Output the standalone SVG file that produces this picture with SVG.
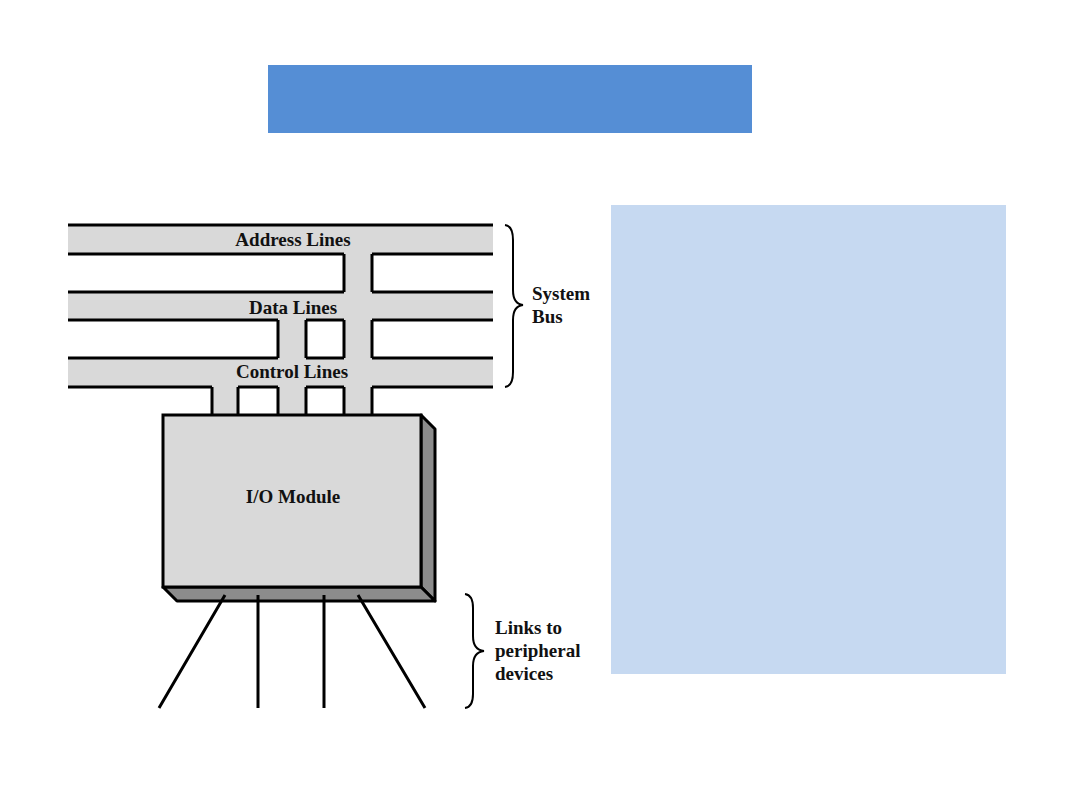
<svg xmlns="http://www.w3.org/2000/svg" width="1080" height="810" viewBox="0 0 1080 810">
<style>
.bus{fill:#d9d9d9;stroke:none}
.ln{stroke:#000;stroke-width:3;fill:none}
.lbl{font-family:"Liberation Serif",serif;font-weight:bold;font-size:19px;fill:#111}
.brace{stroke:#000;stroke-width:2;fill:none}
</style>
<rect width="1080" height="810" fill="#fff"/>
<g id="title"><rect x="268" y="65" width="484" height="68" fill="#558ed5"/></g>
<g id="panel"><rect x="611" y="205" width="395" height="469" fill="#c6d9f1"/></g>
<g id="system-bus">
<rect class="bus" x="68" y="225" width="425" height="29"/>
<rect class="bus" x="68" y="292" width="425" height="28"/>
<rect class="bus" x="68" y="358" width="425" height="29"/>
<rect class="bus" x="344" y="254" width="28" height="161"/>
<rect class="bus" x="278" y="320" width="28" height="95"/>
<rect class="bus" x="212" y="387" width="26" height="28"/>
<path class="ln" d="M68,225H493 M68,254H344 M372,254H493 M68,292H344 M372,292H493 M68,320H278 M306,320H344 M372,320H493 M68,358H278 M306,358H344 M372,358H493 M68,387H212 M238,387H278 M306,387H344 M372,387H493 M344,254V292 M372,254V292 M344,320V358 M372,320V358 M278,320V358 M306,320V358 M344,387V415 M372,387V415 M278,387V415 M306,387V415 M212,387V415 M238,387V415"/>
<text class="lbl" x="293" y="246" text-anchor="middle">Address Lines</text>
<text class="lbl" x="293" y="314" text-anchor="middle">Data Lines</text>
<text class="lbl" x="292" y="378" text-anchor="middle">Control Lines</text>
</g>
<g id="io-module">
<path d="M421,415L435,429V601L421,587Z" fill="#8c8c8c" stroke="#000" stroke-width="3" stroke-linejoin="round"/>
<path d="M163,587L177,601H435L421,587Z" fill="#8c8c8c" stroke="#000" stroke-width="3" stroke-linejoin="round"/>
<rect x="163" y="415" width="258" height="172" fill="#d9d9d9" stroke="#000" stroke-width="3"/>
<text class="lbl" x="293" y="503" text-anchor="middle">I/O Module</text>
</g>
<g id="connectors">
<path class="ln" d="M225,595L159,708 M258,595V708 M324,595V708 M358,595L425,708" stroke-width="2.5"/>
</g>
<g id="system-bus-brace">
<path class="brace" d="M505,225Q513,226 513,240V290Q513,304 523,305Q513,306 513,320V372Q513,386 505,387"/>
<text class="lbl" x="532" y="300">System</text>
<text class="lbl" x="532" y="323">Bus</text>
</g>
<g id="links-brace">
<path class="brace" d="M465,594Q473,595 473,608V636Q473,650 484,651Q473,652 473,666V694Q473,707 465,708"/>
<text class="lbl" x="495" y="634">Links to</text>
<text class="lbl" x="495" y="657">peripheral</text>
<text class="lbl" x="495" y="680">devices</text>
</g>
</svg>
